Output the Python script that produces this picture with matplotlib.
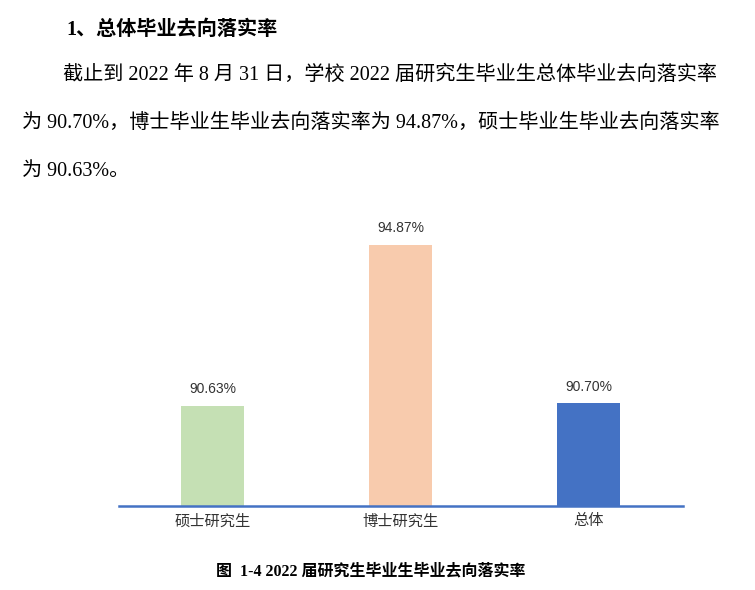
import matplotlib
matplotlib.use("Agg")
import matplotlib.pyplot as plt

# 数据
categories = ["硕士研究生", "博士研究生", "总体"]
rates = [90.63, 94.87, 90.70]
bar_colors = ["#C5E0B4", "#F8CBAD", "#4472C4"]

heading = "1、总体毕业去向落实率"
body_lines = [
    "截止到 2022 年 8 月 31 日，学校 2022 届研究生毕业生总体毕业去向落实率",
    "为 90.70%，博士毕业生毕业去向落实率为 94.87%，硕士毕业生毕业去向落实率",
    "为 90.63%。",
]
caption = "图  1-4 2022 届研究生毕业生毕业去向落实率"

SERIF = ["Liberation Serif", "Noto Sans CJK SC"]
SANS = ["Liberation Sans", "Noto Sans CJK SC"]

W, H = 755, 590
fig = plt.figure(figsize=(W / 100, H / 100), dpi=100)

# ---- 文字段落 ----
fig.text(66 / W, 1 - 30 / H, heading, family=SERIF, fontsize=14.5,
         fontweight="bold", va="center", ha="left", color="black")
fig.text(63 / W, 1 - 75 / H, body_lines[0], family=SERIF, fontsize=14.5,
         va="center", ha="left", color="black")
fig.text(22 / W, 1 - 123 / H, body_lines[1], family=SERIF, fontsize=14.5,
         va="center", ha="left", color="black")
fig.text(22 / W, 1 - 171 / H, body_lines[2], family=SERIF, fontsize=14.5,
         va="center", ha="left", color="black")

# ---- 柱状图 ----
ax = fig.add_axes([118.5 / W, (H - 506) / H, 564 / W, 304 / H])
x = range(len(categories))
bars = ax.bar(x, rates, width=0.335, color=bar_colors, zorder=2)
ax.set_xlim(-0.5, 2.5)
ax.set_ylim(88, 96)

for b, v in zip(bars, rates):
    ax.annotate(f"{v:.2f}%", (b.get_x() + b.get_width() / 2, v),
                xytext=(0, 7), textcoords="offset points",
                ha="center", va="bottom", fontsize=10, color="#333333",
                family=SANS)

ax.set_xticks(list(x))
ax.set_xticklabels(categories, family=SANS, fontsize=11, color="#333333")
ax.tick_params(axis="x", length=0, pad=6)
ax.set_yticks([])
for side in ["left", "right", "top"]:
    ax.spines[side].set_visible(False)
ax.spines["bottom"].set_color("#4472C4")
ax.spines["bottom"].set_linewidth(1.8)
ax.spines["bottom"].set_zorder(3)

fig.text(371 / W, 1 - 571 / H, caption, family=SERIF, fontsize=11.5,
         fontweight="bold", va="center", ha="center", color="black")

fig.savefig("out.png", dpi=100)
